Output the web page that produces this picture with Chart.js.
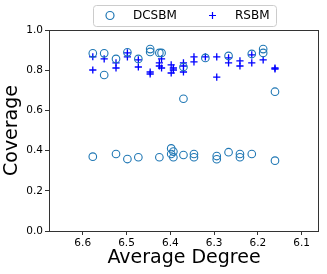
<!DOCTYPE html>
<html>
<head>
<meta charset="utf-8">
<script src="https://cdn.jsdelivr.net/npm/chart.js@4"></script>
<style>
  html, body { margin: 0; padding: 0; background: #fff; }
  #wrap { width: 327px; height: 274px; }
</style>
</head>
<body>
<div id="wrap"><canvas id="chart" width="327" height="274"></canvas></div>
<script>
// ========== DATA ==========
const seriesNames = ["DCSBM", "RSBM"];

const dcsbmX = [6.577, 6.577, 6.551, 6.551, 6.524, 6.524, 6.498, 6.498, 6.473, 6.473,
  6.446, 6.446, 6.425, 6.425, 6.420, 6.398, 6.398, 6.393, 6.393, 6.370, 6.370, 6.370,
  6.346, 6.346, 6.320, 6.294, 6.294, 6.267, 6.267, 6.241, 6.241, 6.214, 6.214,
  6.188, 6.188, 6.161, 6.161];
const dcsbmY = [0.884, 0.370, 0.884, 0.776, 0.856, 0.383, 0.889, 0.358, 0.856, 0.367,
  0.905, 0.891, 0.886, 0.367, 0.886, 0.411, 0.383, 0.395, 0.367, 0.816, 0.658, 0.378,
  0.383, 0.367, 0.861, 0.373, 0.357, 0.871, 0.392, 0.383, 0.367, 0.881, 0.383,
  0.905, 0.886, 0.693, 0.350];

const rsbmX = [6.577, 6.577, 6.551, 6.524, 6.524, 6.498, 6.498, 6.473, 6.473,
  6.446, 6.446, 6.425, 6.425, 6.420, 6.420, 6.398, 6.398, 6.393, 6.393,
  6.370, 6.370, 6.370, 6.346, 6.346, 6.320, 6.294, 6.294, 6.267, 6.267,
  6.241, 6.241, 6.214, 6.214, 6.188, 6.161, 6.161];
const rsbmY = [0.867, 0.801, 0.856, 0.836, 0.811, 0.886, 0.866, 0.851, 0.816,
  0.791, 0.781, 0.836, 0.821, 0.856, 0.811, 0.826, 0.786, 0.811, 0.801,
  0.836, 0.821, 0.791, 0.866, 0.841, 0.866, 0.866, 0.766, 0.861, 0.836,
  0.846, 0.821, 0.876, 0.836, 0.851, 0.811, 0.806];

const xTicks = [6.6, 6.5, 6.4, 6.3, 6.2, 6.1];
const yTicks = [0.0, 0.2, 0.4, 0.6, 0.8, 1.0];

const FONT = "'DejaVu Sans', sans-serif";
const CIRCLE_COLOR = "#1f77b4";
const PLUS_COLOR = "#0000ff";

function toPoints(xs, ys) {
  return xs.map((x, i) => ({ x: x, y: ys[i] }));
}

// ========== FRAME + LEGEND PLUGIN ==========
const framePlugin = {
  id: "frame",
  afterDraw(chart) {
    const ctx = chart.ctx;
    const a = chart.chartArea;
    ctx.save();
    ctx.strokeStyle = "#333";
    ctx.lineWidth = 1;
    ctx.strokeRect(Math.round(a.left) + 0.5, Math.round(a.top) + 0.5,
      Math.round(a.right - a.left) - 1, Math.round(a.bottom - a.top));

    // legend box
    const bx = 93.5, by = 5.5, bw = 183, bh = 21, r = 3;
    ctx.beginPath();
    ctx.moveTo(bx + r, by);
    ctx.arcTo(bx + bw, by, bx + bw, by + bh, r);
    ctx.arcTo(bx + bw, by + bh, bx, by + bh, r);
    ctx.arcTo(bx, by + bh, bx, by, r);
    ctx.arcTo(bx, by, bx + bw, by, r);
    ctx.closePath();
    ctx.fillStyle = "rgba(255,255,255,0.8)";
    ctx.fill();
    ctx.strokeStyle = "#cccccc";
    ctx.stroke();

    // markers
    ctx.lineWidth = 1.2;
    ctx.strokeStyle = CIRCLE_COLOR;
    ctx.beginPath();
    ctx.arc(110, 15.5, 4, 0, Math.PI * 2);
    ctx.stroke();
    ctx.strokeStyle = PLUS_COLOR;
    ctx.beginPath();
    ctx.moveTo(212.5, 12); ctx.lineTo(212.5, 19);
    ctx.moveTo(209, 15.5); ctx.lineTo(216, 15.5);
    ctx.stroke();

    ctx.fillStyle = "#000";
    ctx.font = "12px " + FONT;
    ctx.textBaseline = "middle";
    ctx.textAlign = "left";
    ctx.fillText(seriesNames[0], 133, 16);
    ctx.fillText(seriesNames[1], 235, 16);
    ctx.restore();
  },
};

// ========== CHART ==========
function initializeChart() {
  const ctx = document.getElementById("chart");
  new Chart(ctx, {
    type: "scatter",
    data: {
      datasets: [
        {
          label: seriesNames[0],
          data: toPoints(dcsbmX, dcsbmY),
          pointStyle: "circle",
          pointRadius: 3.8,
          pointHoverRadius: 3.8,
          borderWidth: 1.1,
          borderColor: CIRCLE_COLOR,
          backgroundColor: "rgba(0,0,0,0)",
        },
        {
          label: seriesNames[1],
          data: toPoints(rsbmX, rsbmY),
          pointStyle: "cross",
          pointRadius: 3.6,
          pointHoverRadius: 3.6,
          borderWidth: 1.3,
          borderColor: PLUS_COLOR,
          backgroundColor: PLUS_COLOR,
        },
      ],
    },
    options: {
      responsive: false,
      animation: false,
      layout: { padding: { left: 0, right: 8, top: 30, bottom: 0 } },
      plugins: { legend: { display: false }, tooltip: { enabled: false } },
      scales: {
        x: {
          type: "linear",
          reverse: true,
          min: 6.0605,
          max: 6.677,
          afterBuildTicks: (s) => { s.ticks = xTicks.map((v) => ({ value: v })); },
          afterFit: (s) => { s.height = 43; },
          grid: { drawOnChartArea: false, drawTicks: true, tickLength: 4, color: "#333" },
          border: { display: false },
          ticks: {
            color: "#000",
            font: { family: FONT, size: 10.5 },
            padding: 2,
            maxRotation: 0,
            callback: (v) => v.toFixed(1),
          },
          title: {
            display: true,
            text: "Average Degree",
            color: "#000",
            font: { family: FONT, size: 19 },
            padding: { top: 0, bottom: 5 },
          },
        },
        y: {
          type: "linear",
          min: 0,
          max: 1,
          afterBuildTicks: (s) => { s.ticks = yTicks.map((v) => ({ value: v })); },
          afterFit: (s) => { s.width = 49; },
          grid: { drawOnChartArea: false, drawTicks: true, tickLength: 4, color: "#333" },
          border: { display: false },
          ticks: {
            color: "#000",
            font: { family: FONT, size: 10.5 },
            padding: 2,
            callback: (v) => v.toFixed(1),
          },
          title: {
            display: true,
            text: "Coverage",
            color: "#000",
            font: { family: FONT, size: 19 },
            padding: { top: 1, bottom: 0 },
          },
        },
      },
    },
    plugins: [framePlugin],
  });
}

initializeChart();
</script>
</body>
</html>
